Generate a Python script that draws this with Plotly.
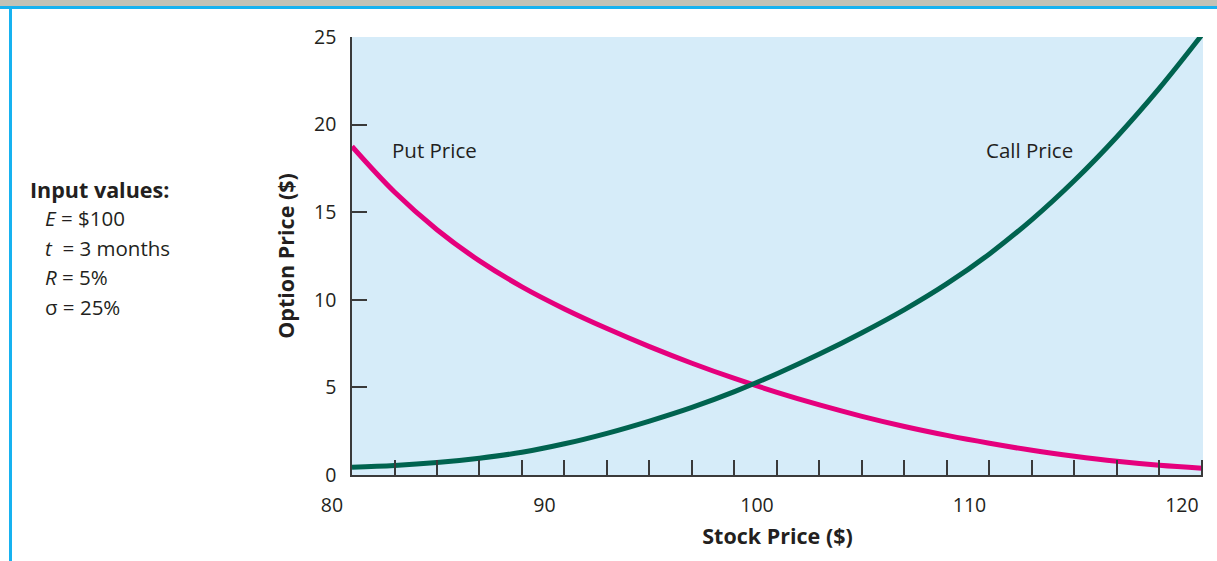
import plotly.graph_objects as go

stock_price = [80, 82, 84, 86, 88, 90, 92, 94, 96, 98, 100, 102, 104, 106, 108, 110, 112, 114, 116, 118, 120]
put_price = [18.75, 16.15, 14.00, 12.22, 10.74, 9.48, 8.36, 7.33, 6.38, 5.51, 4.72, 4.00, 3.35, 2.77, 2.26, 1.81, 1.41, 1.07, 0.78, 0.55, 0.38]
call_price = [0.44, 0.54, 0.71, 0.96, 1.30, 1.78, 2.38, 3.08, 3.86, 4.76, 5.78, 6.90, 8.12, 9.44, 10.92, 12.62, 14.58, 16.81, 19.31, 22.08, 25.12]
x_ticks = [80, 90, 100, 110, 120]
y_ticks = [0, 5, 10, 15, 20, 25]
input_lines = ["<i>E</i> = $100", "<i>t</i>  = 3 months", "<i>R</i> = 5%", "σ = 25%"]

PUT_COLOR = "#E5007D"
CALL_COLOR = "#00634F"
AXIS_COLOR = "#231F20"
FONT = "Open Sans"

fig = go.Figure()
fig.add_trace(go.Scatter(x=stock_price, y=put_price, mode="lines", name="Put Price",
                         line=dict(color=PUT_COLOR, width=5, shape="spline", smoothing=1.0), showlegend=False))
fig.add_trace(go.Scatter(x=stock_price, y=call_price, mode="lines", name="Call Price",
                         line=dict(color=CALL_COLOR, width=5, shape="spline", smoothing=1.0), showlegend=False))

W, H = 1217, 561
L, R, T, B = 352, 14, 37, 86
pw, ph = W - L - R, H - T - B

def px_x(px):
    return (px - L) / pw

def px_y(py):
    return (H - B - py) / ph

fig.update_layout(
    width=W, height=H,
    margin=dict(l=L, r=R, t=T, b=B, autoexpand=False),
    paper_bgcolor="white",
    plot_bgcolor="#D6ECF9",
    font=dict(family=FONT, size=19, color=AXIS_COLOR),
    xaxis=dict(
        range=[80, 120.05], tickvals=x_ticks, ticktext=[str(v) for v in x_ticks],
        ticks="inside", ticklen=15, tickwidth=1.5, tickcolor="#3a3a3a",
        minor=dict(dtick=2, tick0=80, ticks="inside", ticklen=15, tickwidth=1.5, tickcolor="#3a3a3a", showgrid=False),
        showline=True, linecolor="#3a3a3a", linewidth=1.5,
        showgrid=False, zeroline=False,
        ticklabelshift=-20, ticklabelstandoff=12,
        tickfont=dict(family=FONT, size=19.5, color=AXIS_COLOR),
        title=dict(text="<b>Stock Price ($)</b>", font=dict(family=FONT, size=21.5, color=AXIS_COLOR), standoff=12),
        automargin=False, fixedrange=True,
    ),
    yaxis=dict(
        range=[0, 25], tickvals=y_ticks,
        ticks="inside", ticklen=15, tickwidth=1.5, tickcolor="#3a3a3a",
        showline=True, linecolor="#3a3a3a", linewidth=1.5,
        showgrid=False, zeroline=False,
        ticklabelstandoff=10,
        tickfont=dict(family=FONT, size=19.5, color=AXIS_COLOR),
        title=dict(text="<b>Option Price ($)</b>", font=dict(family=FONT, size=21.5, color=AXIS_COLOR), standoff=14),
        automargin=False, fixedrange=True,
    ),
)

# curve labels
fig.add_annotation(x=83.9, y=18.55, xref="x", yref="y", text="Put Price", showarrow=False,
                   font=dict(family=FONT, size=20.5, color=AXIS_COLOR), xanchor="center", yanchor="middle")
fig.add_annotation(x=111.87, y=18.55, xref="x", yref="y", text="Call Price", showarrow=False,
                   font=dict(family=FONT, size=20.5, color=AXIS_COLOR), xanchor="center", yanchor="middle")

# input values panel
fig.add_annotation(x=px_x(28), y=px_y(189), xref="paper", yref="paper", text="<b>Input values:</b>",
                   showarrow=False, xanchor="left", yanchor="middle",
                   font=dict(family=FONT, size=21.5, color=AXIS_COLOR))
for i, line in enumerate(input_lines):
    fig.add_annotation(x=px_x(43), y=px_y(218 + 29.7 * i), xref="paper", yref="paper", text=line,
                       showarrow=False, xanchor="left", yanchor="middle",
                       font=dict(family=FONT, size=20.5, color=AXIS_COLOR))

# frame decoration
fig.add_shape(type="rect", xref="paper", yref="paper", x0=px_x(0), x1=px_x(W), y0=px_y(6), y1=px_y(0),
              fillcolor="#C2C2B6", line=dict(width=0), layer="above")
fig.add_shape(type="rect", xref="paper", yref="paper", x0=px_x(0), x1=px_x(W), y0=px_y(9), y1=px_y(6),
              fillcolor="#17B2F0", line=dict(width=0), layer="above")
fig.add_shape(type="rect", xref="paper", yref="paper", x0=px_x(9), x1=px_x(12), y0=px_y(H), y1=px_y(6),
              fillcolor="#17B2F0", line=dict(width=0), layer="above")

fig.write_html("out.html", config={"displayModeBar": False},
               post_script="document.body.style.margin='0px';document.body.style.overflow='hidden';")
